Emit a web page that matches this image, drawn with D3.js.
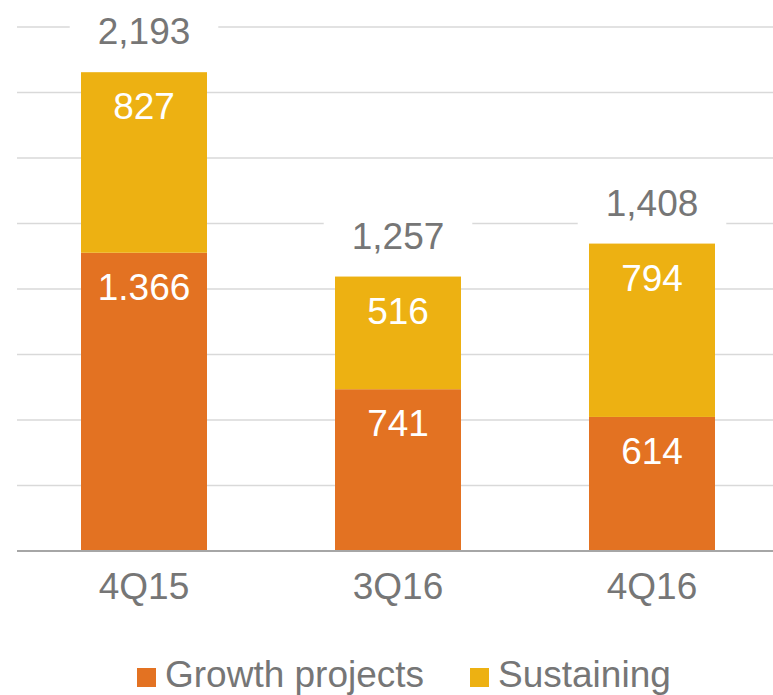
<!DOCTYPE html>
<html>
<head>
<meta charset="utf-8">
<script src="https://cdn.jsdelivr.net/npm/d3@7"></script>
<style>
  html, body { margin: 0; padding: 0; background: #fff; }
  svg, svg text { font-family: Arial, "Liberation Sans", Helvetica, sans-serif; }
  svg { display: block; }
</style>
</head>
<body>
<svg id="chart" width="773" height="695"></svg>
<script>
// Quarterly capex split
const quarters = ["4Q15", "3Q16", "4Q16"];
const growthValues = [1366, 741, 614];
const sustainingValues = [827, 516, 794];
const growthLabels = ["1.366", "741", "614"];
const sustainingLabels = ["827", "516", "794"];
const totalLabels = ["2,193", "1,257", "1,408"];
const seriesNames = ["Growth projects", "Sustaining"];
const yTicks = [0, 300, 600, 900, 1200, 1500, 1800, 2100, 2400];

const colors = { growth: "#E37222", sustaining: "#EDB112" };
const textGray = "#767676";
const fontStack = 'Arial, "Liberation Sans", Helvetica, sans-serif';
const fs = 37;

const svg = d3.select("#chart").attr("font-family", fontStack);

const x = d3.scaleBand()
  .domain(quarters)
  .range([17, 779])
  .paddingInner(0.504)
  .paddingOuter(0.252);

const y = d3.scaleLinear()
  .domain([0, 2400])
  .range([551, 27]);

// Horizontal gridlines
svg.append("g")
  .selectAll("line")
  .data(yTicks.filter(t => t > 0))
  .join("line")
  .attr("x1", 17).attr("x2", 773)
  .attr("y1", d => y(d)).attr("y2", d => y(d))
  .attr("stroke", "#d9d9d9")
  .attr("stroke-width", 1.5);

const rows = quarters.map((q, i) => ({
  q, g: growthValues[i], s: sustainingValues[i],
  gl: growthLabels[i], sl: sustainingLabels[i], tl: totalLabels[i]
}));

// Stacked bars
const bars = svg.append("g");
bars.selectAll("rect.growth")
  .data(rows)
  .join("rect")
  .attr("class", "growth")
  .attr("x", d => x(d.q))
  .attr("width", x.bandwidth())
  .attr("y", d => y(d.g))
  .attr("height", d => y(0) - y(d.g))
  .attr("fill", colors.growth);

bars.selectAll("rect.sustaining")
  .data(rows)
  .join("rect")
  .attr("class", "sustaining")
  .attr("x", d => x(d.q))
  .attr("width", x.bandwidth())
  .attr("y", d => y(d.g + d.s))
  .attr("height", d => y(d.g) - y(d.g + d.s))
  .attr("fill", colors.sustaining);

// Baseline axis
svg.append("line")
  .attr("x1", 17).attr("x2", 773)
  .attr("y1", y(0)).attr("y2", y(0))
  .attr("stroke", "#a6a6a6")
  .attr("stroke-width", 2);

// Segment value labels (inside end)
const segLabels = svg.append("g")
  .attr("font-size", fs)
  .attr("fill", "#fff")
  .attr("text-anchor", "middle");

segLabels.selectAll("text.gl")
  .data(rows)
  .join("text")
  .attr("x", d => x(d.q) + x.bandwidth() / 2)
  .attr("y", d => y(d.g) + 47)
  .text(d => d.gl);

segLabels.selectAll("text.sl")
  .data(rows)
  .join("text")
  .attr("x", d => x(d.q) + x.bandwidth() / 2)
  .attr("y", d => y(d.g + d.s) + 47)
  .text(d => d.sl);

// Total labels above each stack, on a white plate
const totals = svg.append("g");
rows.forEach(d => {
  const cx = x(d.q) + x.bandwidth() / 2;
  const base = Math.max(y(d.g + d.s) - 28, 42);
  const t = totals.append("text")
    .attr("x", cx)
    .attr("y", base)
    .attr("text-anchor", "middle")
    .attr("font-size", fs)
    .attr("fill", textGray)
    .text(d.tl);
  const bb = t.node().getBBox();
  totals.insert("rect", "text")
    .attr("x", bb.x - 28)
    .attr("y", base - 36)
    .attr("width", bb.width + 56)
    .attr("height", 46)
    .attr("fill", "#fff");
});

// Category labels
svg.append("g")
  .selectAll("text")
  .data(quarters)
  .join("text")
  .attr("x", d => x(d) + x.bandwidth() / 2)
  .attr("y", 599)
  .attr("text-anchor", "middle")
  .attr("font-size", fs)
  .attr("fill", textGray)
  .text(d => d);

// Legend
const legend = svg.append("g");
const legendItems = [
  { name: seriesNames[0], color: colors.growth, x: 137 },
  { name: seriesNames[1], color: colors.sustaining, x: 470 }
];
legendItems.forEach(item => {
  legend.append("rect")
    .attr("x", item.x).attr("y", 668)
    .attr("width", 19).attr("height", 19)
    .attr("fill", item.color);
  legend.append("text")
    .attr("x", item.x + 28)
    .attr("y", 687)
    .attr("font-size", fs)
    .attr("fill", textGray)
    .text(item.name);
});
</script>
</body>
</html>
